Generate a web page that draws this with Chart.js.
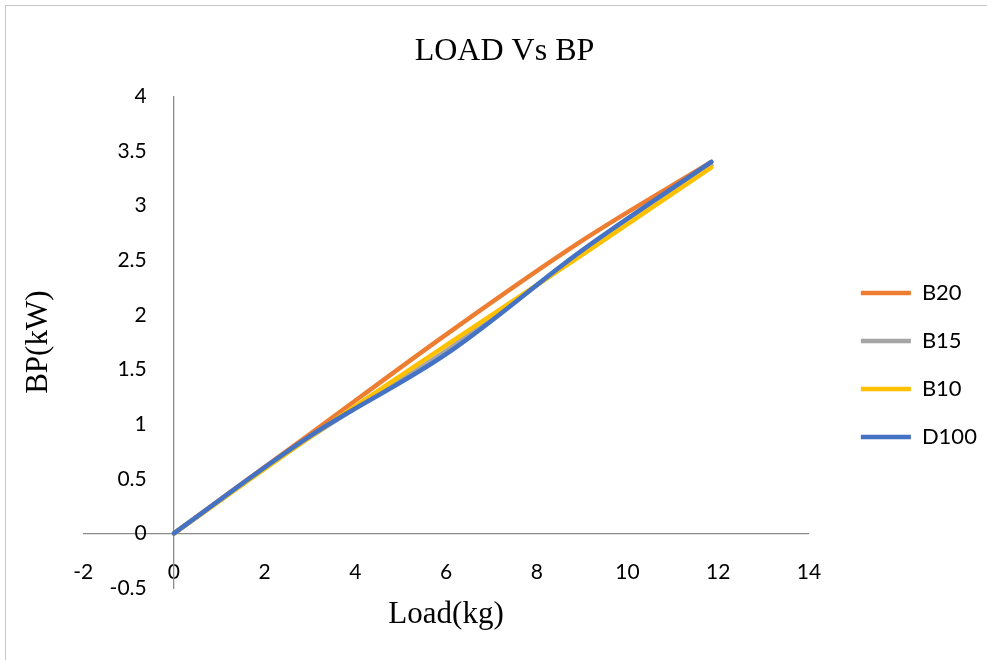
<!DOCTYPE html>
<html>
<head>
<meta charset="utf-8">
<script src="https://cdn.jsdelivr.net/npm/chart.js@4.4.1/dist/chart.umd.min.js"></script>
<style>
  html, body { margin: 0; padding: 0; background: #fff; overflow: hidden; }
  #frame { position: absolute; left: 5px; top: 5px; width: 1100px; height: 800px; border: 1px solid #c6c6c6; }
  #chart { position: absolute; left: 0; top: 0; }
</style>
</head>
<body>
<div id="frame"></div>
<canvas id="chart" width="987" height="660"></canvas>
<script>
// Load (kg) at each reading
const loads = [0, 3, 6, 9, 11.85];

// Brake power (kW) for each blend
const b20 = [0, 0.91, 1.82, 2.68, 3.40];
const b15 = [0, 0.88, 1.67, 2.57, 3.37];
const b10 = [0, 0.88, 1.72, 2.55, 3.35];
const d100 = [0, 0.89, 1.64, 2.59, 3.40];

const seriesNames = ['B20', 'B15', 'B10', 'D100'];
const seriesValues = [b20, b15, b10, d100];
const seriesColors = ['#ED7D31', '#A5A5A5', '#FFC000', '#4472C4'];

// Axis tick settings
const xTicks = { min: -2, max: 14, step: 2 };
const yTicks = { min: -0.5, max: 4, step: 0.5 };

const serif = '"Liberation Serif", "Times New Roman", serif';
const sans = 'Lato, "Liberation Sans", sans-serif';

// build scatter datasets from the arrays above
const datasets = seriesNames.map((name, i) => ({
  label: name,
  data: loads.map((x, j) => ({ x: x, y: seriesValues[i][j] })),
  borderColor: seriesColors[i],
  backgroundColor: seriesColors[i],
  borderWidth: 4.5,
  borderCapStyle: 'round',
  showLine: true,
  pointRadius: 0,
  tension: 0.35,
  yAxisID: 'y',
  order: seriesNames.length - i // later series sit on top, like Excel
}));

// nudge legend and title to where Excel put them
const nudge = {
  id: 'nudge',
  afterLayout(chart) {
    const lg = chart.legend;
    lg.left += 26; lg.right += 26 + 60; // widen so the labels aren't clipped
    lg.width = lg.right - lg.left;
    lg.top += 66; lg.bottom += 66;
    const tb = chart.titleBlock;
    tb.left += 38; tb.right += 38;
  }
};

const sameRange = { type: 'linear', min: yTicks.min, max: yTicks.max, grid: { display: false, drawTicks: false } };

const ctx = document.getElementById('chart').getContext('2d');
const chart = new Chart(ctx, {
  type: 'scatter',
  data: { datasets },
  plugins: [nudge],
  options: {
    responsive: false,
    animation: false,
    layout: { padding: { left: 10, right: 64, top: 10, bottom: 72 } },
    plugins: {
      title: {
        display: true,
        text: 'LOAD Vs BP',
        color: '#000',
        font: { family: serif, size: 32, weight: 'normal' },
        padding: { top: 22, bottom: 26 }
      },
      legend: {
        position: 'right',
        align: 'center',
        labels: {
          usePointStyle: true,
          pointStyle: 'line',
          pointStyleWidth: 50,
          color: '#000',
          padding: 26,
          font: { family: sans, size: 22 },
          sort: (a, b) => a.datasetIndex - b.datasetIndex
        }
      },
      tooltip: { enabled: false }
    },
    scales: {
      x: {
        type: 'linear',
        position: { y: 0 },
        min: xTicks.min,
        max: xTicks.max,
        ticks: {
          stepSize: xTicks.step,
          padding: 26,
          color: '#000',
          font: { family: sans, size: 21 }
        },
        grid: { display: false, drawTicks: false },
        border: { display: true, color: '#8c8c8c', width: 1.3 },
        title: {
          display: true,
          text: 'Load(kg)',
          color: '#000',
          font: { family: serif, size: 31, lineHeight: 0.8 },
          padding: { top: -8, bottom: 0 }
        }
      },
      // the vertical axis line, crossing at load 0
      y: {
        ...sameRange,
        position: { x: 0 },
        ticks: { display: false, stepSize: yTicks.step },
        border: { display: true, color: '#8c8c8c', width: 1.3 }
      },
      // tick labels sit a little left of the axis line
      yLabels: {
        ...sameRange,
        position: { x: -0.6 },
        ticks: {
          stepSize: yTicks.step,
          color: '#000',
          font: { family: sans, size: 21 },
          callback: (v) => String(v)
        },
        border: { display: false }
      },
      // axis title on the left edge
      yTitle: {
        ...sameRange,
        position: 'left',
        ticks: { display: false },
        border: { display: false },
        title: {
          display: true,
          text: 'BP(kW)',
          color: '#000',
          font: { family: serif, size: 31 },
          padding: { top: 10, bottom: 26 }
        }
      }
    }
  }
});
</script>
</body>
</html>
